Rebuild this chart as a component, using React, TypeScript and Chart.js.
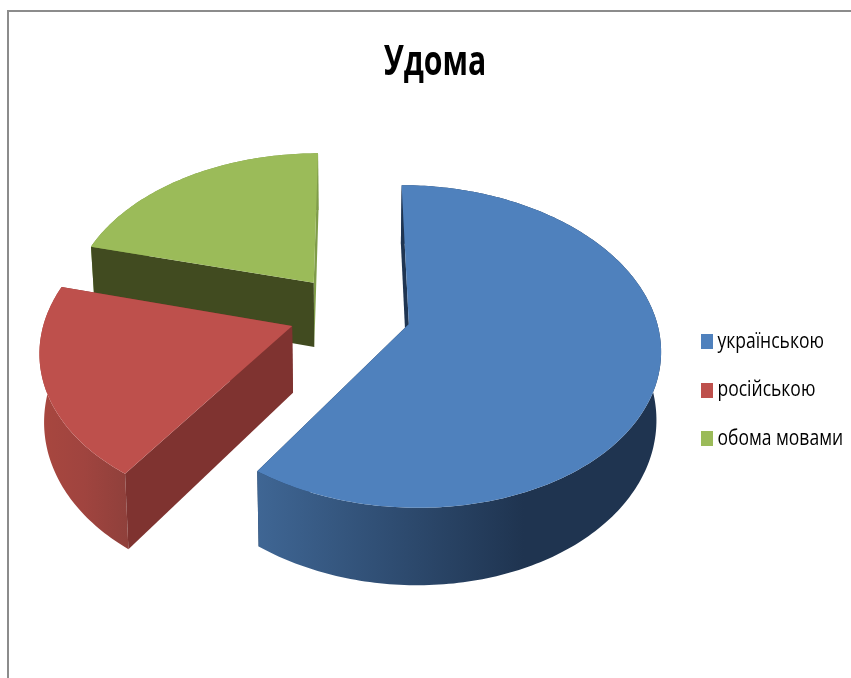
import React, { useEffect, useRef } from "react";
import { Chart, registerables } from "chart.js";

Chart.register(...registerables);

const chartTitle = "Удома";
const categories = ["українською", "російською", "обома мовами"];
const shares = [59.6, 19.5, 20.9];
const topColors = ["#4F81BD", "#BE504C", "#9BBB59"];
const startFaceColors = ["#1F3552", "#7F3330", "#414B20"];
const endFaceColors = ["#1F3552", "#7F3330", "#7F9C49"];
const wallStops: [number, string][][] = [
  [[0, "#3F6694"], [0.66, "#1F3450"], [1, "#1F3450"]],
  [[0, "#A8473F"], [0.5, "#A0443F"], [1, "#8F403B"]],
  [[0, "#7F9C49"], [1, "#7F9C49"]],
];

const FONT = "'Open Sans'";
const EXPLODE = 244; // chart.js moves an arc by offset / 4
const RADIUS = 246;
const SQUASH = 0.63;
const PERSPECTIVE = 0.00056;
const DEPTH = 66;
const TAPER = 0.015;
const VIEW_X = 350;
const VIEW_Y = 312.5;
const TITLE_SQUEEZE = 0.72;
const LEGEND_SQUEEZE = 0.795;
const TITLE_CENTER_X = 435;
const LEGEND_X = 684.5;

function legendSwatch(color: string) {
  const c = document.createElement("canvas");
  c.width = 15;
  c.height = 15;
  const g = c.getContext("2d")!;
  g.fillStyle = color;
  g.fillRect(0, 0, 15, 15);
  return c;
}

function squeeze(box: any, anchor: () => number, target: number, amount: number) {
  const draw = box.draw;
  box.draw = function (...args: any[]) {
    const ctx = box.ctx;
    ctx.save();
    ctx.translate(target, 0);
    ctx.scale(amount, 1);
    ctx.translate(-anchor(), 0);
    draw.apply(box, args);
    ctx.restore();
  };
  box.squeezed = true;
}

const condensedText = {
  id: "condensedText",
  beforeDraw(chart: any) {
    const t = chart.titleBlock;
    const l = chart.legend;
    if (t && !t.squeezed) squeeze(t, () => (t.left + t.right) / 2, TITLE_CENTER_X, TITLE_SQUEEZE);
    if (l && !l.squeezed) squeeze(l, () => l.left, LEGEND_X, LEGEND_SQUEEZE);
  },
};

const pie3d = {
  id: "pie3d",
  beforeDatasetDraw(chart: any, args: any) {
    const { ctx, chartArea } = chart;
    const meta = args.meta;
    const midX = (chartArea.left + chartArea.right) / 2;
    const midY = (chartArea.top + chartArea.bottom) / 2;
    const project = (u: number, v: number, lowered: boolean) => {
      const f = 1 / (1 - PERSPECTIVE * v);
      return lowered
        ? [VIEW_X + u * f * (1 - TAPER), VIEW_Y + (SQUASH * v + DEPTH) * f]
        : [VIEW_X + u * f, VIEW_Y + SQUASH * v * f];
    };
    const slices = meta.data.map((el: any, i: number) => {
      const mid = (el.startAngle + el.endAngle) / 2;
      const d = (el.options.offset || 0) / 4;
      return {
        i,
        el,
        ou: el.x - midX + Math.cos(mid) * d,
        ov: el.y - midY + Math.sin(mid) * d,
      };
    });
    slices.sort((a: any, b: any) => a.ov - b.ov);
    const fill = (pts: number[][], style: any) => {
      ctx.beginPath();
      pts.forEach((p, k) => (k ? ctx.lineTo(p[0], p[1]) : ctx.moveTo(p[0], p[1])));
      ctx.closePath();
      ctx.fillStyle = style;
      ctx.fill();
    };
    for (const { i, el, ou, ov } of slices) {
      const R = el.outerRadius;
      const n = Math.max(8, Math.round(((el.endAngle - el.startAngle) * 180) / Math.PI));
      const rim = (lowered: boolean) => {
        const out: number[][] = [];
        for (let k = 0; k <= n; k++) {
          const a = el.startAngle + ((el.endAngle - el.startAngle) * k) / n;
          out.push(project(ou + R * Math.cos(a), ov + R * Math.sin(a), lowered));
        }
        return out;
      };
      const top = rim(false);
      const low = rim(true);
      const apex = project(ou, ov, false);
      const apexLow = project(ou, ov, true);
      ctx.save();
      // the closing radial wall faces away, so it goes under the rounded wall
      fill([apex, top[n], low[n], apexLow], endFaceColors[i]);
      const xs = top.concat(low).map((p) => p[0]);
      const g = ctx.createLinearGradient(Math.min(...xs), 0, Math.max(...xs), 0);
      wallStops[i].forEach(([t, c]) => g.addColorStop(t, c));
      fill(top.concat(low.slice().reverse()), g);
      // the opening radial wall faces the viewer
      fill([apex, top[0], low[0], apexLow], startFaceColors[i]);
      fill([apex, ...top], topColors[i]);
      ctx.restore();
    }
    return false;
  },
};

export default function App() {
  const ref = useRef<HTMLCanvasElement>(null);
  useEffect(() => {
    const chart = new Chart(ref.current!, {
      type: "pie",
      data: {
        labels: categories,
        datasets: [
          {
            data: shares,
            backgroundColor: topColors,
            borderWidth: 0,
            offset: EXPLODE,
          },
        ],
      },
      plugins: [condensedText, pie3d],
      options: {
        animation: false,
        responsive: false,
        radius: RADIUS,
        plugins: {
          tooltip: { enabled: false },
          title: {
            display: true,
            text: chartTitle,
            color: "#000",
            font: { family: FONT, size: 42, weight: "bold", lineHeight: 1.2 },
            padding: { top: 38, bottom: 14 },
          },
          legend: {
            position: "right",
            fullSize: false,
            labels: {
              color: "#222",
              font: { family: FONT, size: 22 },
              padding: 26.5,
              usePointStyle: true,
              pointStyleWidth: 4,
              generateLabels: () =>
                categories.map((text, i) => ({
                  text,
                  index: i,
                  fillStyle: topColors[i],
                  strokeStyle: topColors[i],
                  lineWidth: 0,
                  hidden: false,
                  pointStyle: legendSwatch(topColors[i]),
                })),
            },
          },
        },
      } as any,
    });
    return () => chart.destroy();
  }, []);
  return (
    <div style={{ position: "fixed", left: 0, top: 0, width: 851, height: 678, overflow: "hidden", background: "#fff" }}>
      <div
        style={{
          position: "absolute",
          left: 7,
          top: 10,
          width: 860,
          height: 700,
          borderLeft: "2px solid #8C8C8C",
          borderTop: "2px solid #8C8C8C",
        }}
      />
      <canvas ref={ref} width={851} height={678} style={{ position: "absolute", left: 0, top: 0, display: "block" }} />
    </div>
  );
}
